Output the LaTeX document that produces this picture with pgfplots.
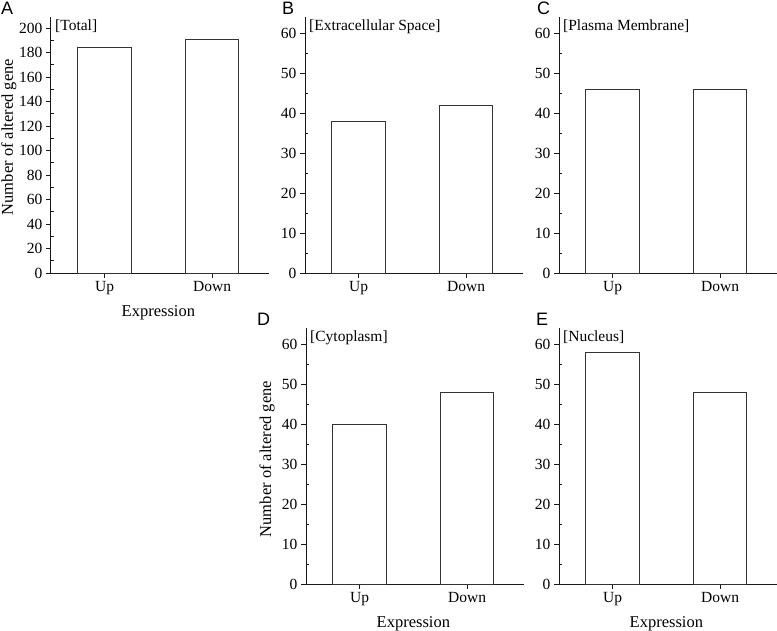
\documentclass[border=0pt]{standalone}
\usepackage{pgfplots}
\pgfplotsset{compat=1.18}
\usepackage{fontspec}
\setmainfont{Liberation Serif}
\newfontfamily\panelfont{Liberation Sans}
\pgfplotsset{
  panel/.style={
    width=218bp, height=256bp, scale only axis,
    anchor=south west,
    xmin=-0.5, xmax=1.53, ymin=0,
    axis lines=left, axis line style={-, line width=1bp, black!90},
    xtick={0,1}, xticklabels={Up,Down},
    tick align=outside, major tick length=5bp, minor tick length=3bp,
    minor y tick num=1,
    tick style={line width=0.9bp, black!90},
    minor tick style={xshift=3bp},
    ybar, bar width=0.5,
    tick label style={font=\fontsize{15.5bp}{18bp}\selectfont},
    label style={font=\fontsize{16.5bp}{20bp}\selectfont},
    /pgf/number format/assume math mode=true,
    xlabel style={at={(axis description cs:0.4926,-0.168)}, anchor=base},
    clip=false,
  },
  bars/.style={draw=black!80, fill=white, line width=1bp},
  small/.style={ymax=64, ytick={0,10,...,60}},
}
\newcommand{\paneltitle}[1]{\node[anchor=north west, inner sep=0pt, font=\fontsize{15.5bp}{18bp}\selectfont] at (rel axis cs:0,1) [xshift=4bp, yshift=-3bp] {#1};}
\begin{document}
\begin{tikzpicture}
\useasboundingbox (0,0) rectangle (777bp,-631bp);
% A
\begin{axis}[panel, at={(51bp,-273bp)}, ymax=209, ytick={0,20,...,200},
  ylabel={Number of altered gene}, xlabel={Expression},
  ylabel style={at={(axis description cs:-0.193,0.531)}, anchor=center}]
\addplot[bars] coordinates {(0,184) (1,191)};
\paneltitle{[Total]}
\end{axis}
% B
\begin{axis}[panel, small, at={(305bp,-273bp)}]
\addplot[bars] coordinates {(0,38) (1,42)};
\paneltitle{[Extracellular Space]}
\end{axis}
% C
\begin{axis}[panel, small, at={(559bp,-273bp)}]
\addplot[bars] coordinates {(0,46) (1,46)};
\paneltitle{[Plasma Membrane]}
\end{axis}
% D
\begin{axis}[panel, small, at={(306bp,-584bp)},
  ylabel={Number of altered gene}, xlabel={Expression},
  ylabel style={at={(axis description cs:-0.179,0.488)}, anchor=center}]
\addplot[bars] coordinates {(0,40) (1,48)};
\paneltitle{[Cytoplasm]}
\end{axis}
% E
\begin{axis}[panel, small, at={(559bp,-584bp)}, xlabel={Expression}]
\addplot[bars] coordinates {(0,58) (1,48)};
\paneltitle{[Nucleus]}
\end{axis}
% panel letters
\node[anchor=north west, inner sep=0pt, font=\panelfont\fontsize{18bp}{20bp}\selectfont] at (1bp,-2bp) {A};
\node[anchor=north west, inner sep=0pt, font=\panelfont\fontsize{18bp}{20bp}\selectfont] at (282bp,-2bp) {B};
\node[anchor=north west, inner sep=0pt, font=\panelfont\fontsize{18bp}{20bp}\selectfont] at (537bp,-2bp) {C};
\node[anchor=north west, inner sep=0pt, font=\panelfont\fontsize{18bp}{20bp}\selectfont] at (257bp,-313bp) {D};
\node[anchor=north west, inner sep=0pt, font=\panelfont\fontsize{18bp}{20bp}\selectfont] at (536bp,-313bp) {E};
\end{tikzpicture}
\end{document}
